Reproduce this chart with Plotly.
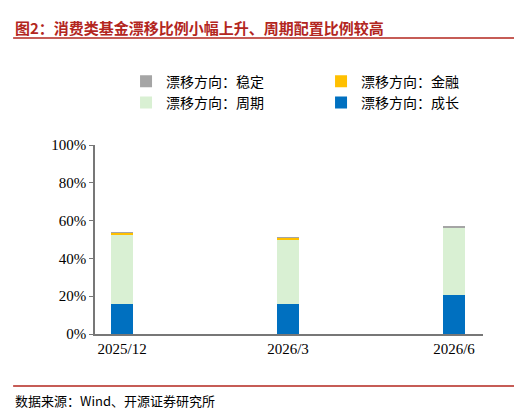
import plotly.graph_objects as go

x_labels = ["2025/12", "2026/3", "2026/6"]
growth = [15.7, 15.7, 20.6]
cycle = [36.7, 34.4, 35.7]
finance = [1.1, 0.9, 0.3]
stable = [0.2, 0.1, 0.1]

xs = list(range(len(x_labels)))
F = "Noto Sans CJK SC"
fig = go.Figure()
for name, vals, col in [("漂移方向：成长", growth, "#0070C0"),
                        ("漂移方向：周期", cycle, "#D9F0D3"),
                        ("漂移方向：金融", finance, "#FFC000"),
                        ("漂移方向：稳定", stable, "#A5A5A5")]:
    fig.add_bar(x=xs, y=vals, name=name, marker_color=col, width=0.13, marker_line_width=0)

fig.update_layout(
    barmode="stack", width=522, height=408, plot_bgcolor="white", paper_bgcolor="white",
    margin=dict(l=87, r=47, t=137, b=82),
    font=dict(family=F, size=14, color="black"),
    legend=dict(orientation="h", x=0.08, y=1.42, xanchor="left", yanchor="top",
                entrywidth=150, font=dict(size=14)),
    showlegend=True,
)
fig.update_xaxes(range=[-0.163, 2.175], tickvals=xs, ticktext=x_labels, showline=True,
                 linecolor="#777", linewidth=1.5, ticks="", tickfont=dict(family="Liberation Serif", size=15))
fig.update_yaxes(range=[0, 100], dtick=20, ticksuffix="%", showline=True, linecolor="#777",
                 linewidth=1.5, ticks="outside", ticklen=4, tickcolor="#777", showgrid=False,
                 tickfont=dict(family="Liberation Serif", size=15))
fig.add_annotation(text="<b>图2：消费类基金漂移比例小幅上升、周期配置比例较高</b>", xref="paper", yref="paper",
                   x=-0.211, y=1.69, xanchor="left", yanchor="top", showarrow=False,
                   font=dict(size=15, color="#B3261E"))
fig.add_annotation(text="数据来源：Wind、开源证券研究所", xref="paper", yref="paper",
                   x=-0.211, y=-0.35, xanchor="left", yanchor="middle", showarrow=False,
                   font=dict(size=13, color="black"))
fig.add_shape(type="line", xref="paper", yref="paper", x0=-0.211, x1=1.12, y0=1.566, y1=1.566,
              line=dict(color="#B3261E", width=1.5))
fig.add_shape(type="line", xref="paper", yref="paper", x0=-0.211, x1=1.12, y0=-0.275, y1=-0.275,
              line=dict(color="#B3261E", width=1.5))
fig.write_html("out.html")
